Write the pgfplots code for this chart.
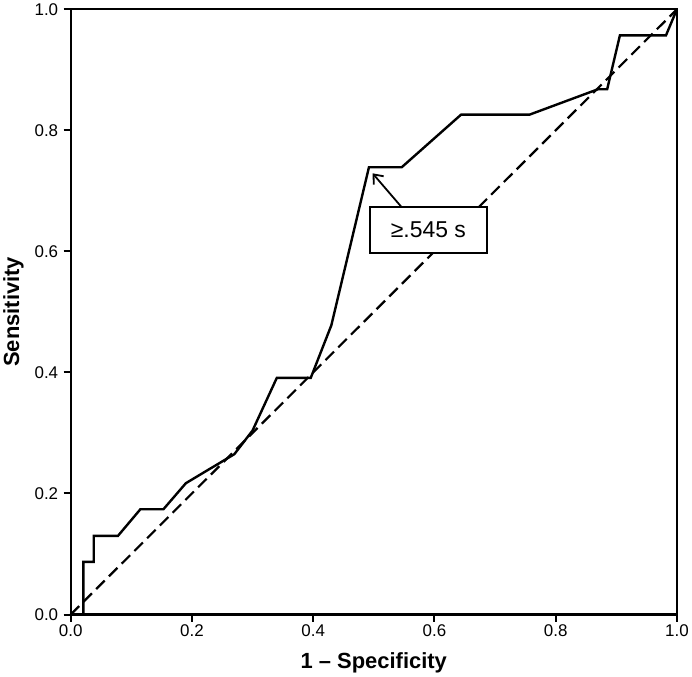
\documentclass[border=0pt]{standalone}
\usepackage{fontspec}
\setmainfont{Liberation Sans}
\usepackage{pgfplots}
\pgfplotsset{compat=1.18}
\usetikzlibrary{arrows.meta}

\begin{document}
\begin{tikzpicture}
\begin{axis}[
  scale only axis,
  width=606bp, height=605bp,
  xmin=0, xmax=1, ymin=0, ymax=1,
  xtick={0,0.2,0.4,0.6,0.8,1.0},
  ytick={0,0.2,0.4,0.6,0.8,1.0},
  xtick pos=bottom, ytick pos=left,
  tick align=outside,
  major tick length=7bp,
  axis line style={line width=2.3bp},
  tick style={line width=2bp, black},
  tick label style={font=\fontsize{17}{20}\selectfont},
  yticklabel style={xshift=-2bp},
  /pgf/number format/assume math mode=true,
  xticklabel style={/pgf/number format/.cd, fixed, fixed zerofill, precision=1},
  yticklabel style={/pgf/number format/.cd, fixed, fixed zerofill, precision=1},
  xlabel={\textbf{1 – Specificity}},
  ylabel={\textbf{Sensitivity}},
  label style={font=\fontsize{22}{26}\selectfont},
  xlabel style={yshift=-9bp},
  ylabel style={yshift=4bp},
  clip=false,
]
% ROC curve
\addplot[black, line width=2.4bp] coordinates {
  (0,0) (0.021,0) (0.021,0.087) (0.038,0.087) (0.038,0.130) (0.078,0.130)
  (0.115,0.174) (0.153,0.174) (0.190,0.217) (0.270,0.265) (0.300,0.304)
  (0.340,0.391) (0.396,0.391) (0.430,0.478) (0.492,0.739) (0.546,0.739)
  (0.644,0.826) (0.757,0.826) (0.870,0.868) (0.885,0.868) (0.906,0.957)
  (0.982,0.957) (1,1)
};
% reference line
\addplot[black, line width=2.2bp, dash pattern=on 12bp off 6bp] coordinates {(0,0) (1,1)};
% annotation
\draw[-{Straight Barb[length=8bp,width=13bp]}, line width=1.8bp] (axis cs:0.546,0.673) -- (axis cs:0.498,0.729);
\node[draw, line width=1.6bp, fill=white, minimum width=117bp, minimum height=46bp, inner sep=0pt,
      font=\fontsize{23}{27}\selectfont] at (axis cs:0.590,0.635) {≥.545 s};
\end{axis}
\end{tikzpicture}
\end{document}
